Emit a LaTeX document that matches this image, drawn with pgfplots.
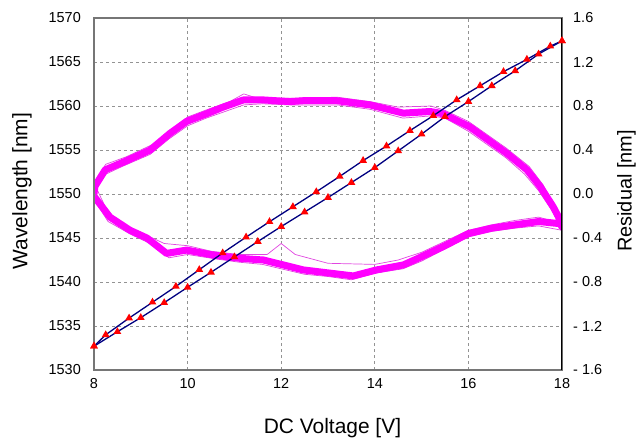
\documentclass[border=0pt]{standalone}
\usepackage{pgfplots}
\pgfplotsset{compat=1.18}
\usepackage{fontspec}
\setmainfont{Liberation Sans}
\definecolor{navyline}{RGB}{0,0,128}
\definecolor{mag}{RGB}{255,0,255}
\definecolor{magthin}{RGB}{225,70,225}
\definecolor{framegray}{RGB}{118,118,118}
\begin{document}
\begin{tikzpicture}
\useasboundingbox (-94bp,-68bp) rectangle (543bp,370bp);
% ---------- residual axis (right) ----------
\begin{axis}[
  at={(0,0)}, anchor=south west, scale only axis,
  width=468bp, height=352bp,
  xmin=8, xmax=18, ymin=-1.6, ymax=1.6,
  xtick={8,10,12,14,16,18}, xticklabels={8,10,12,14,16,18},
  ytick={-1.6,-1.2,-0.8,-0.4,0,0.4,0.8,1.2,1.6},
  yticklabels={- 1.6,- 1.2,- 0.8,- 0.4,0.0,0.4,0.8,1.2,1.6},
  yticklabel pos=right,
  grid=major,
  grid style={draw=gray!85, dash pattern=on 3bp off 3bp, line width=0.8bp},
  major tick length=0pt,
  axis line style={draw=framegray, line width=1.6bp},
  tick label style={font=\fontsize{14.5}{16}\selectfont},
  xticklabel style={anchor=north, inner sep=0pt, yshift=-8bp},
  yticklabel style={anchor=west, inner sep=0pt, xshift=11bp},
  xlabel={DC Voltage [V]},
  every axis x label/.style={at={(axis description cs:0.5096,-0.179)}, anchor=base, font=\fontsize{21}{25}\selectfont},
  ylabel={Residual [nm]},
  every axis y label/.style={at={(axis description cs:1.1581,0.5085)}, rotate=90, anchor=south, inner sep=0pt, font=\fontsize{20}{24}\selectfont},
]
% thin outlier traces
\addplot[magthin, line width=0.7bp] coordinates {
(8.0,0.1)(8.25,0.27)(8.7,0.34)(9.3,0.46)(9.7,0.60)(10.0,0.70)(10.5,0.78)(10.9,0.84)(11.2,0.91)(11.5,0.87)(12.2,0.87)(13.2,0.88)(13.9,0.84)(14.5,0.79)(15.2,0.80)(15.5,0.76)(16.0,0.66)(16.8,0.42)(17.3,0.25)(17.6,0.08)(17.85,-0.12)(18.0,-0.27)
(17.5,-0.21)(17.0,-0.24)(16.5,-0.28)(16.0,-0.33)(15.5,-0.43)(15.0,-0.53)(14.5,-0.60)(14.0,-0.64)(13.0,-0.63)(12.3,-0.55)(12.0,-0.45)(11.7,-0.55)(11.1,-0.55)(10.5,-0.52)(10.0,-0.47)(9.5,-0.45)(9.1,-0.37)(8.7,-0.29)(8.3,-0.17)(8.0,0.1)
};
\addplot[magthin, line width=0.7bp] coordinates {
(8.0,0.03)(8.25,0.18)(8.6,0.25)(9.2,0.36)(9.6,0.50)(10.0,0.62)(10.4,0.69)(10.8,0.75)(11.2,0.81)(11.6,0.82)(12.2,0.81)(13.2,0.81)(13.9,0.77)(14.6,0.69)(15.2,0.71)(15.5,0.69)(16.0,0.57)(16.8,0.33)(17.2,0.18)(17.5,0.03)(17.8,-0.16)(18.0,-0.33)
(17.5,-0.29)(17.0,-0.31)(16.5,-0.34)(16.0,-0.39)(15.5,-0.50)(15.0,-0.61)(14.6,-0.68)(14.0,-0.72)(13.5,-0.78)(13.0,-0.75)(12.5,-0.73)(12.2,-0.70)(11.6,-0.64)(11.1,-0.62)(10.6,-0.59)(10.0,-0.55)(9.6,-0.58)(9.2,-0.45)(8.8,-0.37)(8.3,-0.25)(8.0,-0.05)
};
% main band
\addplot[mag, line width=7bp, line join=round] coordinates {
(8.0,0.00)(8.02,0.07)(8.24,0.22)(8.63,0.29)(9.2,0.40)(9.62,0.55)(9.98,0.66)(10.41,0.73)(10.76,0.79)(11.19,0.855)(11.62,0.855)(12.19,0.84)(12.47,0.848)(13.19,0.848)(13.9,0.81)(14.61,0.735)(15.18,0.75)(15.46,0.73)(16.03,0.61)(16.82,0.37)(17.25,0.22)(17.53,0.07)(17.81,-0.115)(17.96,-0.236)(18.0,-0.30)
(17.96,-0.27)(17.5,-0.25)(17.0,-0.28)(16.5,-0.31)(16.0,-0.36)(15.5,-0.47)(15.0,-0.57)(14.61,-0.645)(14.04,-0.69)(13.54,-0.745)(12.47,-0.69)(12.19,-0.66)(11.62,-0.60)(11.12,-0.585)(10.55,-0.555)(9.98,-0.51)(9.55,-0.54)(9.13,-0.40)(8.77,-0.33)(8.34,-0.21)(8.0,-0.02)
};
\draw[black, line width=1.3bp] (rel axis cs:1,0) -- (rel axis cs:1,1);
\end{axis}
% ---------- wavelength axis (left) ----------
\begin{axis}[
  at={(0,0)}, anchor=south west, scale only axis,
  width=468bp, height=352bp,
  xmin=8, xmax=18, ymin=1530, ymax=1570,
  axis x line=none, axis y line*=left,
  ytick={1530,1535,1540,1545,1550,1555,1560,1565,1570},
  yticklabels={1530,1535,1540,1545,1550,1555,1560,1565,1570},
  major tick length=0pt,
  axis line style={draw=framegray, line width=1.6bp},
  tick label style={font=\fontsize{14.5}{16}\selectfont},
  yticklabel style={anchor=east, inner sep=0pt, xshift=-13bp},
  ylabel={Wavelength [nm]},
  every axis y label/.style={at={(axis description cs:-0.1752,0.5085)}, rotate=90, anchor=north, inner sep=0pt, font=\fontsize{21}{25}\selectfont},
]
\addplot[navyline, line width=1.3bp, mark=triangle*, mark size=3.2bp, mark options={fill=red, draw=red, solid}] coordinates {
(8.0,1532.7)(8.25,1534.0)(8.75,1535.9)(9.25,1537.7)(9.75,1539.5)(10.25,1541.4)(10.75,1543.3)(11.25,1545.1)(11.75,1546.85)(12.25,1548.55)(12.75,1550.25)(13.25,1552.0)(13.75,1553.8)(14.25,1555.45)(14.75,1557.2)(15.25,1558.9)(15.75,1560.7)(16.25,1562.3)(16.75,1563.9)(17.25,1565.3)(17.75,1566.8)(18.0,1567.4)
};
\addplot[navyline, line width=1.3bp, mark=triangle*, mark size=3.2bp, mark options={fill=red, draw=red, solid}] coordinates {
(8.0,1532.7)(8.5,1534.35)(9.0,1535.95)(9.5,1537.65)(10.0,1539.4)(10.5,1541.1)(11.0,1542.85)(11.5,1544.6)(12.0,1546.3)(12.5,1547.95)(13.0,1549.6)(13.5,1551.3)(14.0,1553.0)(14.5,1554.9)(15.0,1556.8)(15.5,1558.8)(16.0,1560.5)(16.5,1562.3)(17.0,1564.0)(17.5,1565.9)(18.0,1567.4)
};
\end{axis}
\end{tikzpicture}
\end{document}
